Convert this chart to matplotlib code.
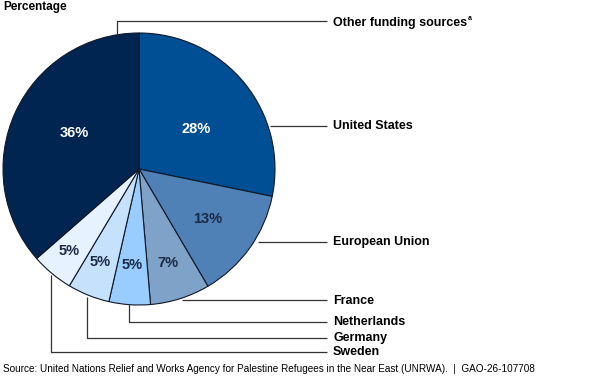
import matplotlib
matplotlib.use("Agg")
import matplotlib.pyplot as plt

plt.rcParams['font.family'] = ['Liberation Sans', 'DejaVu Sans']

# funding shares, clockwise from 12 o'clock
sources = ['United States', 'European Union', 'France', 'Netherlands',
           'Germany', 'Sweden', 'Other funding sources']
shares = [28.2, 13.3, 7.1, 4.9, 5.0, 5.0, 36.4]
pct_labels = ['28%', '13%', '7%', '5%', '5%', '5%', '36%']
colors = ['#004f95', '#4f81b7', '#7fa2c8', '#99ccff', '#c6e1fc', '#e6f2ff', '#002550']
text_colors = ['white', '#1b2a45', '#1b2a45', '#1b2a45', '#1b2a45', '#1b2a45', 'white']

H = 379
fig = plt.figure(figsize=(6, 3.79), dpi=100)
ax = fig.add_axes([0, 0, 1, 1])

cx, cy, r = 139, H - 169, 136
ax.pie(shares, colors=colors, startangle=90, counterclock=False,
       center=(cx, cy), radius=r, frame=True,
       wedgeprops=dict(edgecolor='#101828', linewidth=0.8))
ax.set_xlim(0, 600)
ax.set_ylim(0, H)
ax.set_aspect('equal')
ax.axis('off')

# percent label spots (pixel coords from top-left)
pct_pos = [(196, 129), (208, 219), (168, 263), (132, 265), (100, 262), (69, 251), (74, 133)]
for (x, y), t, c in zip(pct_pos, pct_labels, text_colors):
    ax.text(x, H - y, t, ha='center', va='center', fontsize=10.5,
            fontweight='bold', color=c)

# leader lines: pixel paths, label goes at the end
lx = 327
leaders = [
    [(270, 126), (lx, 126)],                 # United States
    [(258, 242), (lx, 242)],                 # European Union
    [(182, 300), (lx, 300)],                 # France
    [(129, 304), (129, 322), (lx, 322)],     # Netherlands
    [(87, 297), (87, 338), (lx, 338)],       # Germany
    [(51, 275), (51, 352), (lx, 352)],       # Sweden
    [(117, 34), (117, 21), (lx, 21)],        # Other
]
label_y = [126, 242, 301, 322, 338, 352, 23]
name_texts = []
for path, name, ly in zip(leaders, sources, label_y):
    xs = [p[0] for p in path]
    ys = [H - p[1] for p in path]
    ax.plot(xs, ys, color='#333333', linewidth=0.9, solid_capstyle='butt')
    t = ax.text(lx + 6, H - ly, name, ha='left', va='center', fontsize=9,
                fontweight='bold', color='black')
    name_texts.append(t)

# footnote marker right after "Other funding sources"
fig.canvas.draw()
bb = name_texts[-1].get_window_extent().transformed(ax.transData.inverted())
ax.text(bb.x1 + 1, H - 19, 'a', ha='left', va='center', fontsize=5,
        fontweight='bold', color='black')

ax.text(3, H - 7, 'Percentage', ha='left', va='center', fontsize=8.5,
        fontweight='bold', color='black')
ax.text(3, H - 369, 'Source: United Nations Relief and Works Agency for Palestine '
        'Refugees in the Near East (UNRWA).  |  GAO-26-107708',
        ha='left', va='center', fontsize=7.2, color='black')

fig.savefig('out.png', dpi=100)
